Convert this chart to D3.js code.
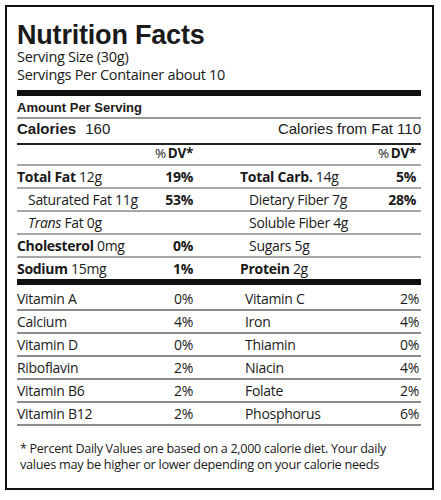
<!DOCTYPE html>
<html>
<head>
<meta charset="utf-8">
<script src="https://cdn.jsdelivr.net/npm/d3@7"></script>
<style>
  body { margin: 0; background: #fff; }
  svg text { fill: #1a1a1a; }
  .myr { font-family: "Open Sans", sans-serif; letter-spacing: -0.3px; }
  .hel { font-family: "Liberation Sans", Arial, sans-serif; }
</style>
</head>
<body>
<svg id="label"></svg>
<script>
// label data
const servingSize = "Serving Size (30g)";
const servingsPer = "Servings Per Container about 10";
const calories = 160;
const caloriesFromFat = 110;

const leftNutrients = ["Total Fat", "Saturated Fat", "Trans Fat", "Cholesterol", "Sodium"];
const leftAmounts = ["12g", "11g", "0g", "0mg", "15mg"];
const leftDV = ["19%", "53%", "", "0%", "1%"];
const leftMain = [true, false, false, true, true];

const rightNutrients = ["Total Carb.", "Dietary Fiber", "Soluble Fiber", "Sugars", "Protein"];
const rightAmounts = ["14g", "7g", "4g", "5g", "2g"];
const rightDV = ["5%", "28%", "", "", ""];
const rightMain = [true, false, false, false, true];

const vitaminsLeft = ["Vitamin A", "Calcium", "Vitamin D", "Riboflavin", "Vitamin B6", "Vitamin B12"];
const vitaminsLeftDV = [0, 4, 0, 2, 2, 2];
const vitaminsRight = ["Vitamin C", "Iron", "Thiamin", "Niacin", "Folate", "Phosphorus"];
const vitaminsRightDV = [2, 4, 0, 4, 2, 6];

const footnote = [
    "* Percent Daily Values are based on a 2,000 calorie diet. Your daily",
    "values may be higher or lower depending on your calorie needs"
];

const W = 441, H = 500;
const left = 17, right = 421;

const svg = d3.select("#label")
    .attr("width", W)
    .attr("height", H);

// outer frame
svg.append("rect")
    .attr("x", 6).attr("y", 6)
    .attr("width", 427).attr("height", 483)
    .attr("fill", "none")
    .attr("stroke", "#111")
    .attr("stroke-width", 2);

// header
svg.append("text").attr("class", "hel")
    .attr("x", left).attr("y", 44)
    .style("font-size", "27px").style("font-weight", "bold")
    .style("letter-spacing", "-0.2px")
    .text("Nutrition Facts");

svg.append("text").attr("class", "myr")
    .attr("x", left).attr("y", 62)
    .style("font-size", "14.5px")
    .text(servingSize);

svg.append("text").attr("class", "myr")
    .attr("x", left).attr("y", 80)
    .style("font-size", "14.5px")
    .text(servingsPer);

const bar = (y, h, color) => svg.append("rect")
    .attr("x", left).attr("y", y)
    .attr("width", right - left).attr("height", h)
    .attr("fill", color);

bar(90, 6, "#111");

svg.append("text").attr("class", "hel")
    .attr("x", left).attr("y", 112)
    .style("font-size", "13px").style("font-weight", "bold")
    .text("Amount Per Serving");

bar(117.5, 1, "#333");

const calText = svg.append("text").attr("class", "hel")
    .attr("x", left).attr("y", 134)
    .style("font-size", "15px");
calText.append("tspan").style("font-weight", "bold").text("Calories");
calText.append("tspan").attr("dx", 9).text(calories);

svg.append("text").attr("class", "hel")
    .attr("x", right).attr("y", 134)
    .attr("text-anchor", "end")
    .style("font-size", "15px")
    .text("Calories from Fat " + caloriesFromFat);

bar(143, 2, "#222");

// %DV header
const dvCols = [193, 416];
dvCols.forEach(x => {
    const t = svg.append("text").attr("class", "myr")
        .attr("x", x).attr("y", 158)
        .attr("text-anchor", "end")
        .style("font-size", "13.5px");
    t.append("tspan").text("%");
    t.append("tspan").attr("dx", 2).style("font-weight", "bold").text("DV*");
});

// nutrient rows
const rowIdx = d3.range(leftNutrients.length);
const yNut = d3.scaleBand()
    .domain(rowIdx)
    .range([165, 280]);

svg.selectAll(".nut-line")
    .data(rowIdx)
    .enter()
    .append("rect")
    .attr("class", "nut-line")
    .attr("x", left)
    .attr("y", d => yNut(d) - 0.75)
    .attr("width", right - left)
    .attr("height", 1.5)
    .attr("fill", "#8a8a8a");

function nutrientColumn(names, amounts, dvs, main, xMain, xSub, xDV) {
    const g = svg.append("g");
    const rows = g.selectAll("g")
        .data(rowIdx)
        .enter()
        .append("g")
        .attr("transform", d => `translate(0,${yNut(d) + yNut.bandwidth() / 2 + 5})`);

    const lab = rows.append("text")
        .attr("class", "myr")
        .attr("x", d => main[d] ? xMain : xSub)
        .style("font-size", "14px");

    lab.each(function(d) {
        const t = d3.select(this);
        const name = names[d];
        if (name === "Trans Fat") {
            t.append("tspan").style("font-style", "italic").text("Trans");
            t.append("tspan").text(" Fat");
        } else {
            t.append("tspan")
                .style("font-weight", main[d] ? "bold" : "normal")
                .text(name);
        }
        t.append("tspan").text(" " + amounts[d]);
    });

    rows.append("text")
        .attr("class", "myr")
        .attr("x", xDV)
        .attr("text-anchor", "end")
        .style("font-size", "14px")
        .style("font-weight", "bold")
        .text(d => dvs[d]);
}

nutrientColumn(leftNutrients, leftAmounts, leftDV, leftMain, left, 28, 193);
nutrientColumn(rightNutrients, rightAmounts, rightDV, rightMain, 240, 249, 416);

bar(279, 6, "#111");

// vitamins
const vitIdx = d3.range(vitaminsLeft.length);
const yVit = d3.scaleBand()
    .domain(vitIdx)
    .range([287, 425]);

svg.selectAll(".vit-line")
    .data(vitIdx)
    .enter()
    .append("rect")
    .attr("class", "vit-line")
    .attr("x", left)
    .attr("y", d => yVit(d) + yVit.bandwidth() - 1)
    .attr("width", right - left)
    .attr("height", 2)
    .attr("fill", "#8c8c8c");

function vitaminColumn(names, values, xLabel, xVal) {
    const rows = svg.append("g").selectAll("g")
        .data(vitIdx)
        .enter()
        .append("g")
        .attr("transform", d => `translate(0,${yVit(d) + yVit.bandwidth() / 2 + 5})`);

    rows.append("text")
        .attr("class", "myr")
        .attr("x", xLabel)
        .style("font-size", "14px")
        .text(d => names[d]);

    rows.append("text")
        .attr("class", "myr")
        .attr("x", xVal)
        .attr("text-anchor", "end")
        .style("font-size", "14px")
        .text(d => values[d] + "%");
}

vitaminColumn(vitaminsLeft, vitaminsLeftDV, left, 193);
vitaminColumn(vitaminsRight, vitaminsRightDV, 245, 419);

// footnote
const footLen = [366, 359];
svg.selectAll(".foot")
    .data(footnote)
    .enter()
    .append("text")
    .attr("class", "foot myr")
    .attr("x", 20)
    .attr("y", (d, i) => 453 + i * 15.5)
    .attr("textLength", (d, i) => footLen[i])
    .attr("lengthAdjust", "spacingAndGlyphs")
    .style("font-size", "13px")
    .text(d => d);
</script>
</body>
</html>
